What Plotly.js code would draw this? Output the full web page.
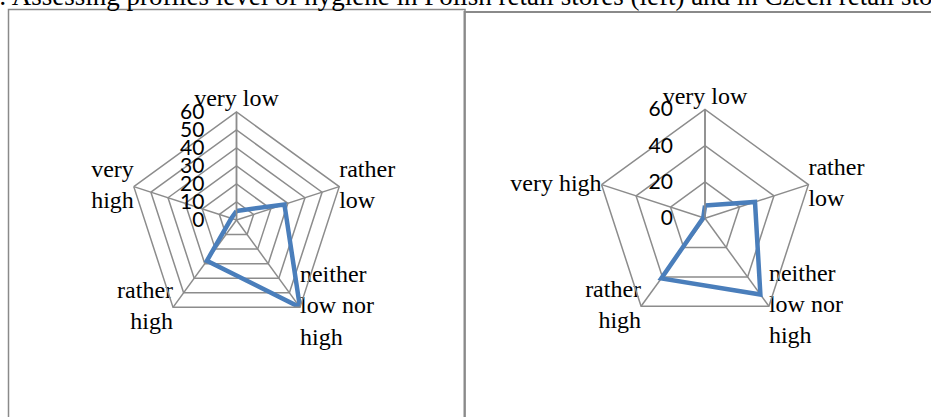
<!DOCTYPE html>
<html>
<head>
<meta charset="utf-8">
<script src="https://cdn.plot.ly/plotly-3.0.1.min.js"></script>
<style>
  html, body { margin: 0; padding: 0; background: #ffffff; }
  #chart { width: 931px; height: 417px; }
</style>
</head>
<body>
<div id="chart"></div>
<script>
// Hygiene level categories (clockwise from top)
const categories = ["very low", "rather low", "neither low nor high", "rather high", "very high"];
const labelsPolish = ["very low", "rather<br>low", "neither<br>low nor<br>high", "rather<br>high", "very<br>high"];
const labelsCzech = ["very low", "rather<br>low", "neither<br>low nor<br>high", "rather<br>high", "very high"];

const polishValues = [5, 28, 60, 28, 3];
const czechValues = [7, 29, 52, 41, 1];

const polishTicks = [0, 10, 20, 30, 40, 50, 60];
const czechTicks = [0, 20, 40, 60];
const radialMax = 60;

const titleText = ": Assessing profiles level of hygiene in Polish retail stores (left) and in Czech retail stores";

const W = 931, H = 417;
const px = (x) => x / W;
const py = (y) => 1 - y / H;

const gridGrey = "#8c8c8c";
const lineBlue = "#4a7ebb";
const serif = "'Liberation Serif', 'Times New Roman', serif";
const labelPositions = ["top center", "middle right", "middle right", "middle left", "middle left"];

// Close the polygon by repeating the first category
function closed(arr) {
  return arr.concat([arr[0]]);
}

function polarAxes(domainX, domainY, ticks) {
  return {
    domain: { x: domainX, y: domainY },
    gridshape: "linear",
    bgcolor: "rgba(0,0,0,0)",
    radialaxis: {
      range: [0, radialMax],
      tickvals: ticks,
      ticktext: ticks.map(String),
      angle: 90,
      side: "counterclockwise",
      showline: true,
      linecolor: gridGrey,
      linewidth: 1.5,
      gridcolor: gridGrey,
      gridwidth: 1.5,
      ticks: "outside",
      ticklen: 24,
      tickcolor: "rgba(0,0,0,0)",
      tickangle: 90,
      tickfont: { family: "Lato, 'Liberation Sans', sans-serif", size: 21, color: "#000" },
    },
    angularaxis: {
      type: "category",
      categoryorder: "array",
      categoryarray: categories,
      direction: "clockwise",
      rotation: 90,
      showline: true,
      linecolor: gridGrey,
      linewidth: 1.5,
      gridcolor: gridGrey,
      gridwidth: 1.5,
      ticks: "",
      showticklabels: false,
    },
  };
}

function seriesTrace(subplot, values) {
  return {
    type: "scatterpolar",
    subplot: subplot,
    r: closed(values),
    theta: closed(categories),
    mode: "lines",
    line: { color: lineBlue, width: 4.5 },
    hoverinfo: "skip",
  };
}

// category names sit at the outer ring of each radar
function labelTrace(subplot, labels) {
  return {
    type: "scatterpolar",
    subplot: subplot,
    r: categories.map(() => radialMax),
    theta: categories,
    mode: "text",
    text: labels,
    textposition: labelPositions,
    textfont: { family: serif, size: 24, color: "#000" },
    cliponaxis: false,
    hoverinfo: "skip",
  };
}

const traces = [
  seriesTrace("polar", polishValues),
  seriesTrace("polar2", czechValues),
  labelTrace("polar", labelsPolish),
  labelTrace("polar2", labelsCzech),
];

const layout = {
  width: W,
  height: H,
  margin: { l: 0, r: 0, t: 0, b: 0 },
  paper_bgcolor: "#ffffff",
  showlegend: false,
  polar: polarAxes([px(128.5), px(344.5)], [py(328), py(112)], polishTicks),
  polar2: polarAxes([px(596), px(814)], [py(327), py(109.5)], czechTicks),
  shapes: [
    // chart boxes
    { type: "rect", xref: "paper", yref: "paper", x0: px(8.5), x1: px(465), y0: py(440), y1: py(9.5),
      line: { color: "#8a8a8a", width: 1.5 }, fillcolor: "rgba(0,0,0,0)", layer: "below" },
    { type: "rect", xref: "paper", yref: "paper", x0: px(464.5), x1: px(960), y0: py(440), y1: py(12),
      line: { color: "#8a8a8a", width: 2 }, fillcolor: "rgba(0,0,0,0)", layer: "below" },
  ],
  annotations: [
    {
      text: titleText,
      xref: "paper", yref: "paper",
      x: px(-3), y: py(13),
      xanchor: "left", yanchor: "bottom",
      showarrow: false,
      font: { family: serif, size: 27, color: "#000" },
    },
  ],
};

Plotly.newPlot("chart", traces, layout, { staticPlot: true, displayModeBar: false });
</script>
</body>
</html>
